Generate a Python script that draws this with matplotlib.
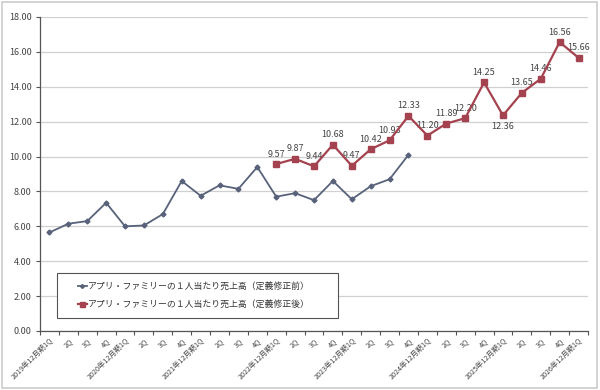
import matplotlib
matplotlib.use("Agg")
import matplotlib.pyplot as plt
from matplotlib.patches import Rectangle

plt.rcParams['font.family'] = ['Noto Sans CJK JP', 'DejaVu Sans']

years = ["2019", "2020", "2021", "2022", "2023", "2024", "2025"]
quarters = ["1Q", "2Q", "3Q", "4Q"]
categories = []
for y in years:
    for q in quarters:
        categories.append(f"{y}年12月期1Q" if q == "1Q" else q)
categories.append("2026年12月期1Q")

series_before_name = "アプリ・ファミリーの１人当たり売上高（定義修正前）"
series_after_name = "アプリ・ファミリーの１人当たり売上高（定義修正後）"

before_values = [5.65, 6.15, 6.30, 7.35, 6.00, 6.05, 6.70, 8.60,
                 7.75, 8.35, 8.15, 9.40, 7.70, 7.90, 7.50, 8.60,
                 7.55, 8.30, 8.70, 10.10]
after_start = 12
after_values = [9.57, 9.87, 9.44, 10.68, 9.47, 10.42, 10.93, 12.33,
                11.20, 11.89, 12.20, 14.25, 12.36, 13.65, 14.46, 16.56, 15.66]
below_labels = [12.36]

y_ticks = [0, 2, 4, 6, 8, 10, 12, 14, 16, 18]

W, H = 600, 390
fig = plt.figure(figsize=(6, 3.9), dpi=100)
fig.patch.set_facecolor('white')
fig.add_artist(Rectangle((0.003, 0.004), 0.992, 0.992, transform=fig.transFigure,
                         fill=False, edgecolor='#cccccc', linewidth=1.2))

ax = fig.add_axes([40 / W, 1 - 331 / H, 548 / W, 314 / H])

blue = '#58627a'
red = '#a5424f'

x_before = list(range(len(before_values)))
x_after = list(range(after_start, after_start + len(after_values)))

ax.plot(x_before, before_values, color=blue, linewidth=1.3, marker='D',
        markersize=2.5, label=series_before_name, zorder=3)
ax.plot(x_after, after_values, color=red, linewidth=1.6, marker='s',
        markersize=4.5, label=series_after_name, zorder=4)

for xi, v in zip(x_after, after_values):
    if v in below_labels:
        ax.annotate(f"{v:.2f}", (xi, v), xytext=(0, -5), textcoords='offset points',
                    ha='center', va='top', fontsize=6.5, color='#444444')
    else:
        ax.annotate(f"{v:.2f}", (xi, v), xytext=(0, 4), textcoords='offset points',
                    ha='center', va='bottom', fontsize=6.5, color='#444444')

ax.set_xlim(-0.5, len(categories) - 0.5)
ax.set_ylim(0, 18)
ax.set_yticks(y_ticks)
ax.set_yticklabels([f"{t:.2f}" for t in y_ticks], fontsize=6.5, color='#444444')
ax.set_xticks([i + 0.5 for i in range(-1, len(categories))], minor=False)
ax.set_xticklabels([])
ax.set_xticks(range(len(categories)), minor=True)
ax.set_xticklabels(categories, minor=True, rotation=45, ha='right',
                   rotation_mode='anchor', fontsize=5.2, color='#444444')
ax.tick_params(axis='x', which='minor', length=0, pad=4)
ax.tick_params(axis='x', which='major', length=3, color='#555555', width=0.8)
ax.tick_params(axis='y', length=3, color='#555555', width=0.8, pad=3)

ax.grid(axis='y', color='#d0d0d0', linewidth=0.9)
ax.set_axisbelow(True)
for s in ['top', 'right']:
    ax.spines[s].set_visible(False)
ax.spines['left'].set_color('#555555')
ax.spines['bottom'].set_color('#555555')
ax.spines['left'].set_linewidth(0.9)
ax.spines['bottom'].set_linewidth(0.9)

# legend frame
ax.add_patch(Rectangle((17 / 548, 13 / 314), 281 / 548, 45 / 314, transform=ax.transAxes,
                       fill=True, facecolor='white', edgecolor='#555555', linewidth=0.8,
                       zorder=5))
leg = ax.legend(loc='center left', bbox_to_anchor=(38 / 548, 35.5 / 314),
                fontsize=6.4, frameon=False, handlelength=1.0, handletextpad=0.15,
                labelspacing=0.95, borderpad=0.0, borderaxespad=0.0, markerscale=0.8)
leg.set_zorder(6)
for t in leg.get_texts():
    t.set_color('#333333')

fig.savefig('out.png', dpi=100)
